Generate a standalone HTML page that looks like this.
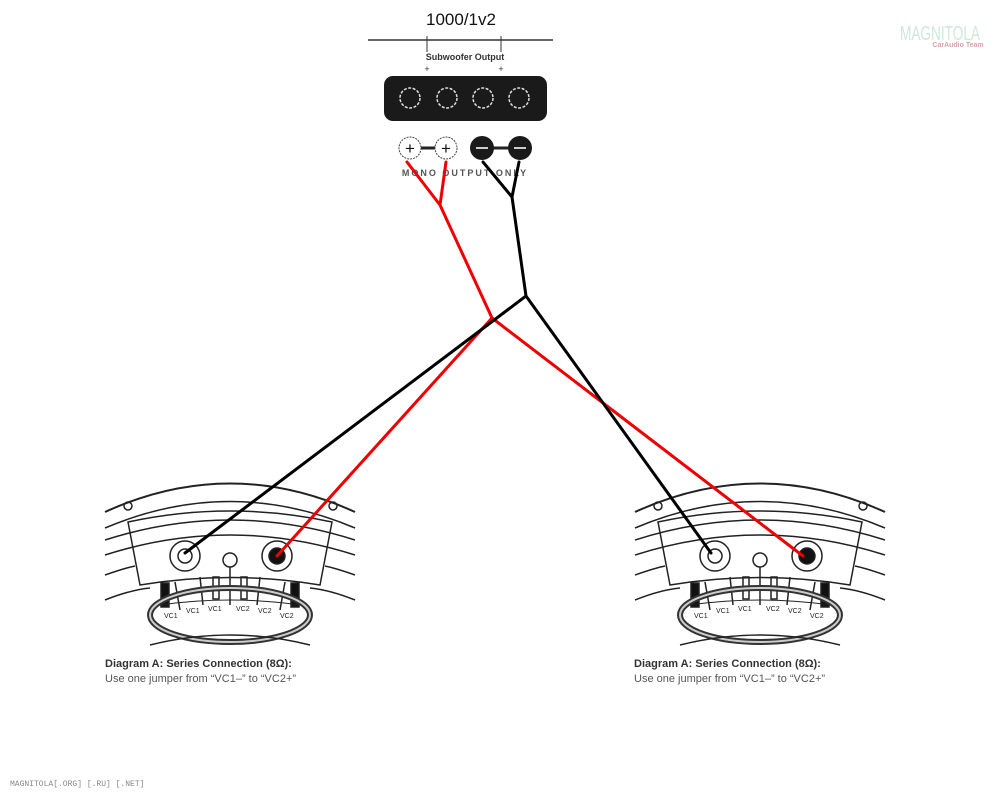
<!DOCTYPE html>
<html><head><style>
body{margin:0;background:#fff;width:1000px;height:792px;overflow:hidden;font-family:"Liberation Sans",sans-serif}
</style></head><body>
<svg width="1000" height="792" viewBox="0 0 1000 792" xmlns="http://www.w3.org/2000/svg">
<defs>
<g id="spk" fill="none" stroke="#222" stroke-width="1.5">
  <path d="M105 512 Q230 455 355 512" stroke-width="2"/>
  <path d="M105 528 Q230 475 355 528"/>
  <path d="M105 540 Q230 500 355 540"/>
  <path d="M105 555 Q230 515 355 555"/>
  <circle cx="128" cy="506" r="4"/><circle cx="333" cy="506" r="4"/>
  <path d="M128 522 L140 585 Q230 570 320 585 L332 522 Q230 500 128 522Z"/>
  <path d="M105 600 Q130 590 150 588"/><path d="M355 600 Q330 590 310 588"/>
  <path d="M105 575 Q125 568 135 566"/><path d="M355 575 Q335 568 325 566"/>
  <circle cx="185" cy="556" r="15" fill="#fff"/><circle cx="185" cy="556" r="7"/>
  <circle cx="277" cy="556" r="15" fill="#fff"/><circle cx="277" cy="556" r="8" fill="#111"/>
  <circle cx="230" cy="560" r="7" fill="#fff"/><line x1="230" y1="567" x2="230" y2="605"/>
  <rect x="213" y="577" width="6" height="22"/><rect x="241" y="577" width="6" height="22"/>
  <line x1="175" y1="582" x2="180" y2="610"/><line x1="200" y1="577" x2="203" y2="605"/>
  <line x1="260" y1="577" x2="257" y2="605"/><line x1="285" y1="582" x2="280" y2="610"/>
  <rect x="161" y="583" width="8" height="24" fill="#111"/><rect x="291" y="583" width="8" height="24" fill="#111"/>
  <ellipse cx="230" cy="615" rx="80" ry="27" stroke="#333" stroke-width="6"/>
  <ellipse cx="230" cy="615" rx="80" ry="27" stroke="#ccc" stroke-width="2"/>
  <path d="M160 605 Q230 595 300 605" stroke-width="1"/>
  <g font-size="7" fill="#222" stroke="none" font-family="Liberation Sans">
   <text x="164" y="618">VC1</text><text x="186" y="613">VC1</text><text x="208" y="611">VC1</text>
   <text x="236" y="611">VC2</text><text x="258" y="613">VC2</text><text x="280" y="618">VC2</text>
  </g>
  <path d="M150 645 Q230 625 310 645"/>
</g>
</defs>
<use href="#spk"/>
<use href="#spk" x="530"/>
<text x="105" y="667" font-size="11" font-weight="bold" fill="#333">Diagram A: Series Connection (8Ω):</text>
<text x="105" y="682" font-size="11" fill="#555">Use one jumper from “VC1–” to “VC2+”</text>
<text x="634" y="667" font-size="11" font-weight="bold" fill="#333">Diagram A: Series Connection (8Ω):</text>
<text x="634" y="682" font-size="11" fill="#555">Use one jumper from “VC1–” to “VC2+”</text>

<text x="461" y="25" font-size="17" text-anchor="middle" fill="#111">1000/1v2</text>
<line x1="368" y1="40" x2="553" y2="40" stroke="#333" stroke-width="1.5"/>
<line x1="427" y1="36" x2="427" y2="52" stroke="#333"/><line x1="501" y1="36" x2="501" y2="52" stroke="#333"/>
<text x="465" y="60" font-size="9" font-weight="bold" text-anchor="middle" fill="#333">Subwoofer Output</text>
<text x="427" y="72" font-size="9" text-anchor="middle" fill="#333">+</text>
<text x="501" y="72" font-size="9" text-anchor="middle" fill="#333">+</text>
<rect x="384" y="76" width="163" height="45" rx="9" fill="#1a1a1a"/>
<g fill="none" stroke="#ddd" stroke-width="1.5" stroke-dasharray="3 1.5">
<circle cx="410" cy="98" r="10"/><circle cx="447" cy="98" r="10"/><circle cx="483" cy="98" r="10"/><circle cx="519" cy="98" r="10"/>
</g>
<line x1="410" y1="148" x2="446" y2="148" stroke="#222" stroke-width="3"/>
<line x1="482" y1="148" x2="520" y2="148" stroke="#222" stroke-width="3"/>
<circle cx="410" cy="148" r="11" fill="#fff" stroke="#444" stroke-dasharray="2 1"/>
<circle cx="446" cy="148" r="11" fill="#fff" stroke="#444" stroke-dasharray="2 1"/>
<circle cx="482" cy="148" r="12" fill="#1a1a1a"/><circle cx="520" cy="148" r="12" fill="#1a1a1a"/>
<text x="410" y="154" font-size="17" text-anchor="middle" fill="#111">+</text>
<text x="446" y="154" font-size="17" text-anchor="middle" fill="#111">+</text>
<line x1="476" y1="148" x2="488" y2="148" stroke="#ccc" stroke-width="2"/>
<line x1="514" y1="148" x2="526" y2="148" stroke="#ccc" stroke-width="2"/>
<text x="465" y="176" font-size="9" font-weight="bold" text-anchor="middle" fill="#555" letter-spacing="2">MONO OUTPUT ONLY</text>

<g fill="none" stroke-width="3" stroke-linecap="round">
<path d="M407 162 L440 205 M446 162 L440 205 L492 318 L277 556 M492 318 L803 556" stroke="#e00"/>
<path d="M483 162 L512 197 M519 162 L512 197 L526 296 L185 553 M526 296 L711 553" stroke="#000"/>
</g>

<text x="940" y="40" font-size="20" text-anchor="middle" fill="#cfe8d8" textLength="80" lengthAdjust="spacingAndGlyphs">MAGNITOLA</text>
<text x="958" y="47" font-size="7" font-weight="bold" text-anchor="middle" fill="#d9a0a8">CarAudio Team</text>
<text x="10" y="786" font-size="8" fill="#888" font-family="Liberation Mono">MAGNITOLA[.ORG] [.RU] [.NET]</text>
</svg>
</body></html>
